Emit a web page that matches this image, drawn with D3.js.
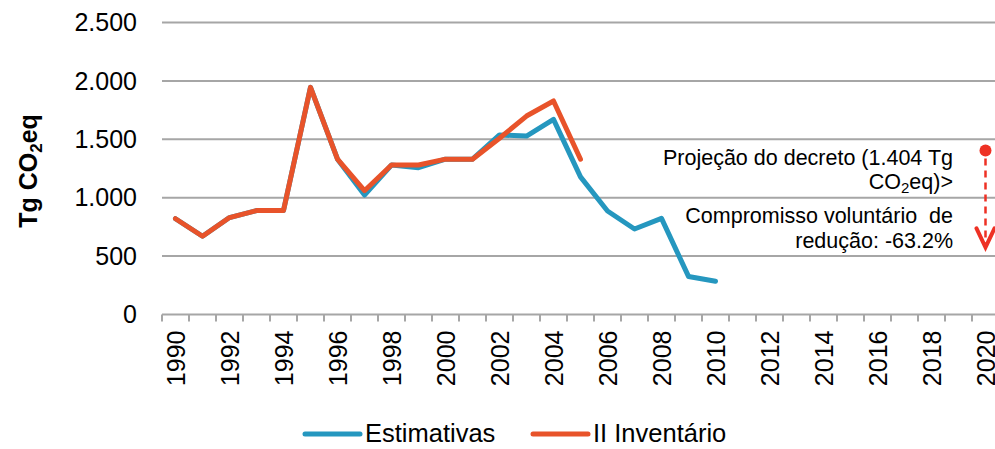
<!DOCTYPE html>
<html>
<head>
<meta charset="utf-8">
<script src="https://cdn.jsdelivr.net/npm/d3@7/dist/d3.min.js"></script>
<style>
  html, body { margin: 0; padding: 0; background: #fff; overflow: hidden; }
  #chart { width: 995px; height: 449px; }
  text { font-family: "Liberation Sans", Arial, sans-serif; fill: #000; }
</style>
</head>
<body>
<div id="chart"></div>
<script>
// Categorias (anos)
const years = [1990, 1991, 1992, 1993, 1994, 1995, 1996, 1997, 1998, 1999,
  2000, 2001, 2002, 2003, 2004, 2005, 2006, 2007, 2008, 2009,
  2010, 2011, 2012, 2013, 2014, 2015, 2016, 2017, 2018, 2019, 2020];

// Séries (Tg CO2eq)
const estimativas = [820, 670, 830, 890, 890, 1945, 1330, 1023, 1280, 1257,
  1330, 1330, 1537, 1528, 1671, 1178, 886, 732, 823, 326, 284];
const inventario = [820, 670, 830, 890, 890, 1945, 1330, 1060, 1280, 1280,
  1330, 1330, 1509, 1699, 1828, 1329];

const yTicks = [0, 500, 1000, 1500, 2000, 2500];
const xTickLabels = [1990, 1992, 1994, 1996, 1998, 2000, 2002, 2004, 2006, 2008,
  2010, 2012, 2014, 2016, 2018, 2020];

// Projeção e compromisso
const projecaoAno = 2020;
const projecaoValor = 1404;
const compromissoFim = 575;

const seriesNames = ['Estimativas', 'II Inventário'];
const colors = ['#2597BF', '#E8532A'];

const width = 995, height = 449;
const margin = { top: 22.5, left: 162 };
const plotRight = 999, plotBottom = 314.5;

const svg = d3.select('#chart').append('svg')
  .attr('width', width)
  .attr('height', height);

const x = d3.scaleBand()
  .domain(years)
  .range([margin.left, plotRight])
  .padding(0);

const y = d3.scaleLinear()
  .domain([0, 2500])
  .range([plotBottom, margin.top]);

const cx = d => x(d) + x.bandwidth() / 2;
const fmt = v => d3.format(',')(v).replace(/,/g, '.');

// Grade horizontal
svg.append('g')
  .selectAll('line')
  .data(yTicks.filter(d => d > 0))
  .enter().append('line')
  .attr('x1', margin.left)
  .attr('x2', plotRight)
  .attr('y1', d => y(d))
  .attr('y2', d => y(d))
  .attr('stroke', '#a6a6a6')
  .attr('stroke-width', 2);

// Rótulos do eixo Y
svg.append('g')
  .selectAll('text')
  .data(yTicks)
  .enter().append('text')
  .attr('x', 137)
  .attr('y', d => y(d))
  .attr('dy', '0.35em')
  .attr('text-anchor', 'end')
  .attr('font-size', 25)
  .text(fmt);

// Eixo X
svg.append('line')
  .attr('x1', margin.left)
  .attr('x2', plotRight)
  .attr('y1', y(0))
  .attr('y2', y(0))
  .attr('stroke', '#a6a6a6')
  .attr('stroke-width', 2);

svg.append('g')
  .selectAll('line')
  .data(years.concat(['end']))
  .enter().append('line')
  .attr('x1', d => d === 'end' ? plotRight : x(d))
  .attr('x2', d => d === 'end' ? plotRight : x(d))
  .attr('y1', y(0))
  .attr('y2', y(0) + 7)
  .attr('stroke', '#a6a6a6')
  .attr('stroke-width', 2);

svg.append('g')
  .selectAll('text')
  .data(xTickLabels)
  .enter().append('text')
  .attr('transform', d => `translate(${cx(d) + 9}, ${y(0) + 16}) rotate(-90)`)
  .attr('text-anchor', 'end')
  .attr('font-size', 25)
  .text(d => d);

// Título do eixo Y
const yTitle = svg.append('text')
  .attr('transform', 'translate(37, 171) rotate(-90)')
  .attr('text-anchor', 'middle')
  .attr('font-size', 25)
  .attr('font-weight', 700);
yTitle.append('tspan').text('Tg CO');
yTitle.append('tspan').attr('font-size', 17).attr('dy', 5).text('2');
yTitle.append('tspan').attr('dy', -5).text('eq');

// Linhas
const line = d3.line()
  .x((d, i) => cx(years[i]))
  .y(d => y(d));

[estimativas, inventario].forEach((s, i) => {
  svg.append('path')
    .datum(s)
    .attr('fill', 'none')
    .attr('stroke', colors[i])
    .attr('stroke-width', 5)
    .attr('stroke-linejoin', 'round')
    .attr('stroke-linecap', 'round')
    .attr('d', line);
});

// Projeção do decreto e seta
svg.append('line')
  .attr('x1', cx(projecaoAno))
  .attr('x2', cx(projecaoAno))
  .attr('y1', y(projecaoValor) + 8)
  .attr('y2', y(compromissoFim) - 2)
  .attr('stroke', '#EE3124')
  .attr('stroke-width', 2.5)
  .attr('stroke-dasharray', '7,5');

svg.append('path')
  .attr('d', `M${cx(projecaoAno) - 9},${y(compromissoFim) - 19} L${cx(projecaoAno)},${y(compromissoFim)} L${cx(projecaoAno) + 9},${y(compromissoFim) - 19}`)
  .attr('fill', 'none')
  .attr('stroke', '#EE3124')
  .attr('stroke-width', 4)
  .attr('stroke-linecap', 'round');

svg.append('circle')
  .attr('cx', cx(projecaoAno))
  .attr('cy', y(projecaoValor))
  .attr('r', 6)
  .attr('fill', '#EE3124');

const notes = svg.append('g')
  .attr('font-size', 21.5)
  .attr('text-anchor', 'end');
notes.append('text').attr('x', 953).attr('y', 165).text('Projeção do decreto (1.404 Tg');
const co2 = notes.append('text').attr('x', 953).attr('y', 189);
co2.append('tspan').text('CO');
co2.append('tspan').attr('font-size', 15).attr('dy', 4).text('2');
co2.append('tspan').attr('dy', -4).text('eq)>');
notes.append('text').attr('x', 953).attr('y', 223).style('white-space', 'pre').text('Compromisso voluntário  de');
notes.append('text').attr('x', 953).attr('y', 248).text('redução: -63.2%');

// Legenda
const legendX = [305, 533];
const legend = svg.append('g');
seriesNames.forEach((name, i) => {
  legend.append('line')
    .attr('x1', legendX[i])
    .attr('x2', legendX[i] + 55)
    .attr('y1', 434)
    .attr('y2', 434)
    .attr('stroke', colors[i])
    .attr('stroke-width', 5)
    .attr('stroke-linecap', 'round');
  legend.append('text')
    .attr('x', legendX[i] + 60)
    .attr('y', 442)
    .attr('font-size', 25.5)
    .text(name);
});
</script>
</body>
</html>
